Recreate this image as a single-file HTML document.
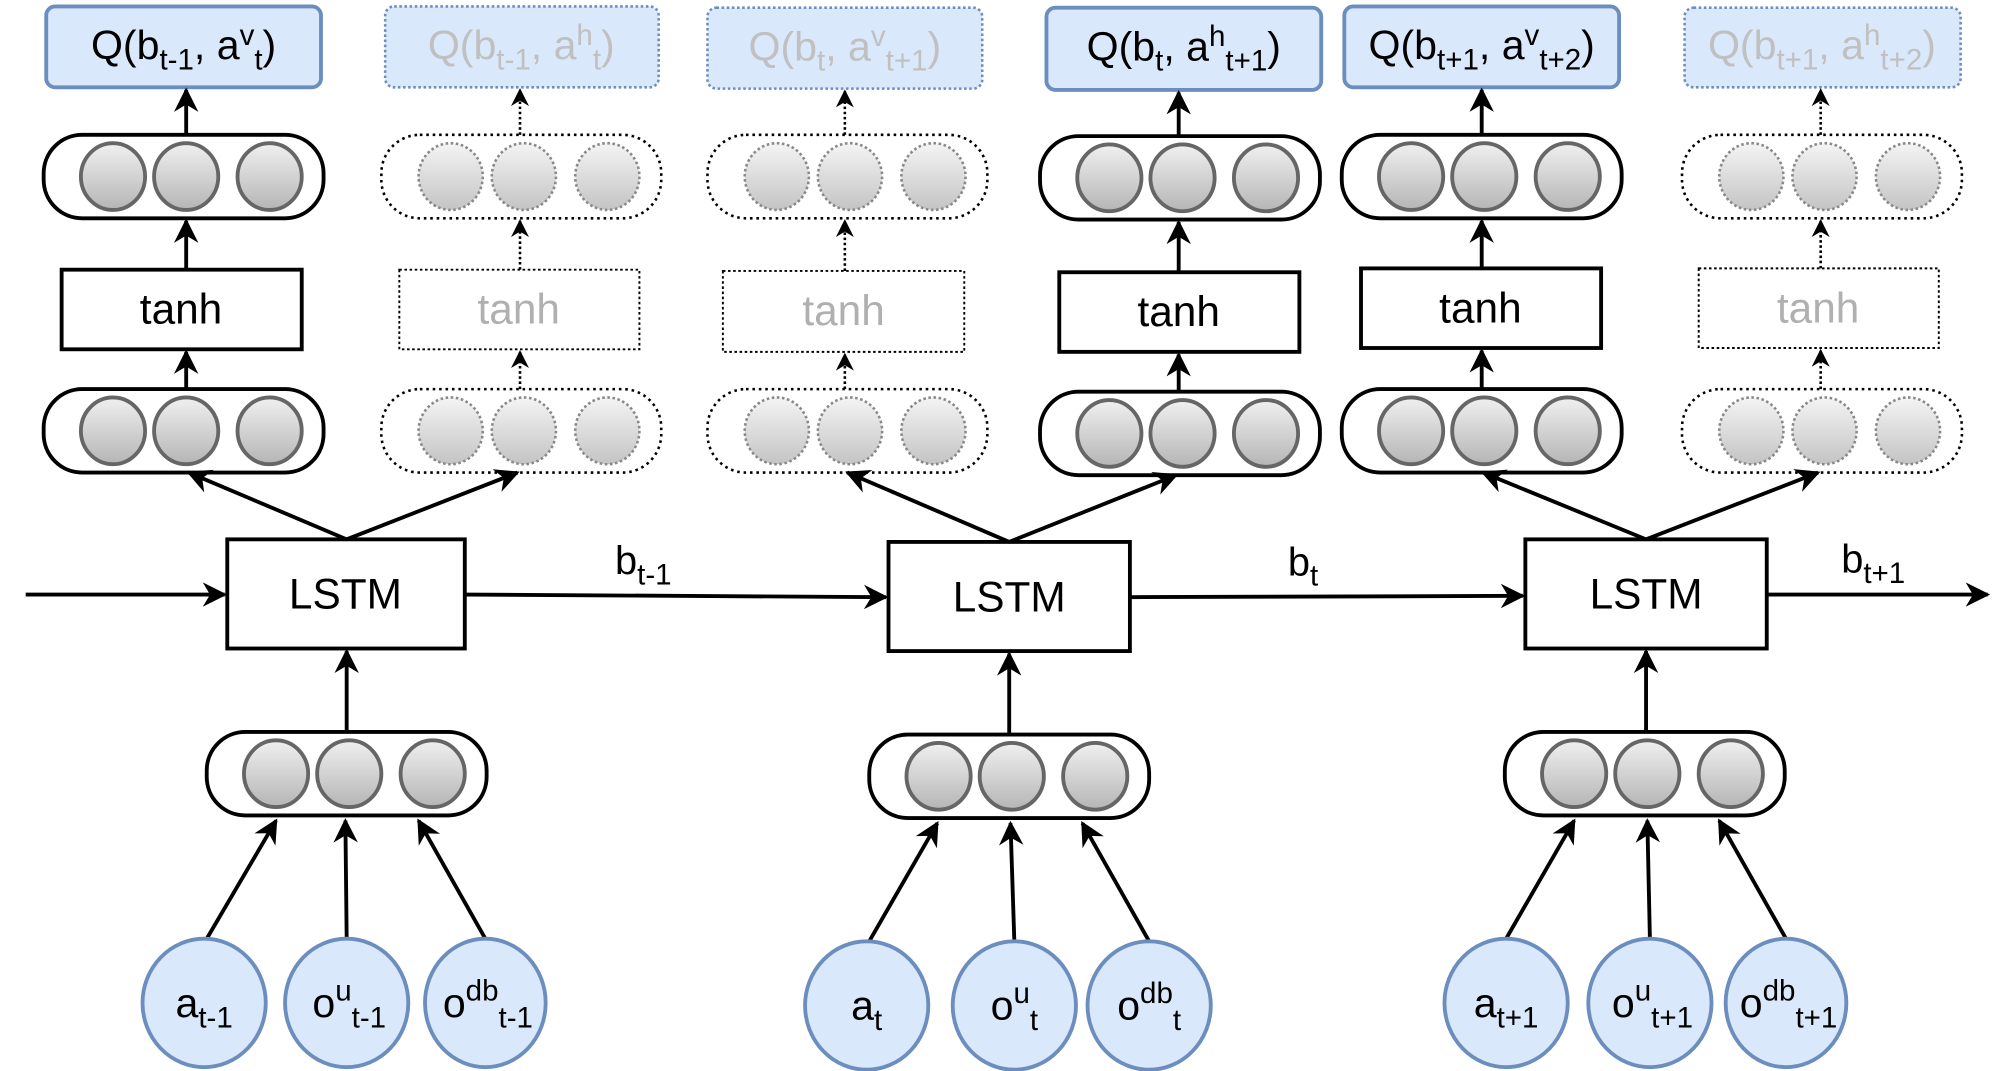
<!DOCTYPE html>
<html><head><meta charset="utf-8"><style>html,body{margin:0;padding:0;background:#fff}svg{display:block}</style></head>
<body>
<svg width="2003" height="1071" viewBox="0 0 1560 834" preserveAspectRatio="none" xmlns="http://www.w3.org/2000/svg" font-family="Liberation Sans, Arial, sans-serif">
<defs>
<linearGradient id="g" x1="0" y1="0" x2="0" y2="1"><stop offset="0" stop-color="#f0f0f0"/><stop offset="1" stop-color="#b5b5b5"/></linearGradient>
<linearGradient id="g2" x1="0" y1="0" x2="0" y2="1"><stop offset="0" stop-color="#f4f4f4"/><stop offset="1" stop-color="#c4c4c4"/></linearGradient>
<marker id="a" viewBox="0 0 10 10" refX="9" refY="5" markerUnits="userSpaceOnUse" markerWidth="19" markerHeight="21" orient="auto"><path d="M0,0 L10,5 L0,10 L3,5 z" fill="#000"/></marker>
<marker id="ad" viewBox="0 0 10 10" refX="9" refY="5" markerUnits="userSpaceOnUse" markerWidth="14" markerHeight="15" orient="auto"><path d="M0,0 L10,5 L0,10 L3,5 z" fill="#000"/></marker>
<g id="ls"><rect x="0" y="0" width="218" height="65" rx="30" fill="#fff" stroke="#000" stroke-width="3"/>
<ellipse cx="54" cy="32.5" rx="25" ry="26" fill="url(#g)" stroke="#666" stroke-width="3"/>
<ellipse cx="111" cy="32.5" rx="25" ry="26" fill="url(#g)" stroke="#666" stroke-width="3"/>
<ellipse cx="176" cy="32.5" rx="25" ry="26" fill="url(#g)" stroke="#666" stroke-width="3"/></g>
<g id="ld"><rect x="0" y="0" width="218" height="65" rx="30" fill="#fff" stroke="#000" stroke-width="2" stroke-dasharray="2 3"/>
<ellipse cx="54" cy="32.5" rx="25" ry="26" fill="url(#g2)" stroke="#888" stroke-width="2" stroke-dasharray="2 2"/>
<ellipse cx="111" cy="32.5" rx="25" ry="26" fill="url(#g2)" stroke="#888" stroke-width="2" stroke-dasharray="2 2"/>
<ellipse cx="176" cy="32.5" rx="25" ry="26" fill="url(#g2)" stroke="#888" stroke-width="2" stroke-dasharray="2 2"/></g>
</defs>

<g font-size="32" text-anchor="middle">
<rect x="36" y="5" width="214" height="63" rx="7" fill="#dae8fc" stroke="#6c8ebf" stroke-width="3"/>
<text x="143" y="46">Q(b<tspan font-size="23" dy="8">t-1</tspan><tspan dy="-8">, a</tspan><tspan font-size="23" dy="-11">v</tspan><tspan font-size="23" dy="19">t</tspan><tspan dy="-8">)</tspan></text>
<rect x="300" y="5" width="213" height="63" rx="7" fill="#dae8fc" stroke="#6c8ebf" stroke-width="2" stroke-dasharray="2 2"/>
<text x="406" y="46" fill="#c0c0c0">Q(b<tspan font-size="23" dy="8">t-1</tspan><tspan dy="-8">, a</tspan><tspan font-size="23" dy="-11">h</tspan><tspan font-size="23" dy="19">t</tspan><tspan dy="-8">)</tspan></text>
<rect x="551" y="6" width="214" height="63" rx="7" fill="#dae8fc" stroke="#6c8ebf" stroke-width="2" stroke-dasharray="2 2"/>
<text x="658" y="47" fill="#c0c0c0">Q(b<tspan font-size="23" dy="8">t</tspan><tspan dy="-8">, a</tspan><tspan font-size="23" dy="-11">v</tspan><tspan font-size="23" dy="19">t+1</tspan><tspan dy="-8">)</tspan></text>
<rect x="815" y="6" width="214" height="64" rx="7" fill="#dae8fc" stroke="#6c8ebf" stroke-width="3"/>
<text x="922" y="47">Q(b<tspan font-size="23" dy="8">t</tspan><tspan dy="-8">, a</tspan><tspan font-size="23" dy="-11">h</tspan><tspan font-size="23" dy="19">t+1</tspan><tspan dy="-8">)</tspan></text>
<rect x="1047" y="5" width="214" height="63" rx="7" fill="#dae8fc" stroke="#6c8ebf" stroke-width="3"/>
<text x="1154" y="46">Q(b<tspan font-size="23" dy="8">t+1</tspan><tspan dy="-8">, a</tspan><tspan font-size="23" dy="-11">v</tspan><tspan font-size="23" dy="19">t+2</tspan><tspan dy="-8">)</tspan></text>
<rect x="1312" y="6" width="215" height="62" rx="7" fill="#dae8fc" stroke="#6c8ebf" stroke-width="2" stroke-dasharray="2 2"/>
<text x="1419" y="46" fill="#c0c0c0">Q(b<tspan font-size="23" dy="8">t+1</tspan><tspan dy="-8">, a</tspan><tspan font-size="23" dy="-11">h</tspan><tspan font-size="23" dy="19">t+2</tspan><tspan dy="-8">)</tspan></text>
</g>

<use href="#ls" x="34" y="105"/><use href="#ls" x="34" y="303"/>
<use href="#ld" x="297" y="105"/><use href="#ld" x="297" y="303"/>
<use href="#ld" x="551" y="105"/><use href="#ld" x="551" y="303"/>
<use href="#ls" x="810" y="106"/><use href="#ls" x="810" y="305"/>
<use href="#ls" x="1045" y="105"/><use href="#ls" x="1045" y="303"/>
<use href="#ld" x="1310" y="105"/><use href="#ld" x="1310" y="303"/>

<g font-size="33" text-anchor="middle">
<rect x="48" y="210" width="187" height="62" fill="#fff" stroke="#000" stroke-width="3"/><text x="141" y="252">tanh</text>
<rect x="311" y="210" width="187" height="62" fill="#fff" stroke="#000" stroke-width="1.5" stroke-dasharray="2 2"/><text x="404" y="252" fill="#b0b0b0">tanh</text>
<rect x="563" y="211" width="188" height="63" fill="#fff" stroke="#000" stroke-width="1.5" stroke-dasharray="2 2"/><text x="657" y="253" fill="#b0b0b0">tanh</text>
<rect x="825" y="212" width="187" height="62" fill="#fff" stroke="#000" stroke-width="3"/><text x="918" y="254">tanh</text>
<rect x="1060" y="209" width="187" height="62" fill="#fff" stroke="#000" stroke-width="3"/><text x="1153" y="251">tanh</text>
<rect x="1323" y="209" width="187" height="62" fill="#fff" stroke="#000" stroke-width="1.5" stroke-dasharray="2 2"/><text x="1416" y="251" fill="#b0b0b0">tanh</text>
</g>

<g stroke="#000" stroke-width="3" fill="none" marker-end="url(#a)">
<line x1="145" y1="105" x2="145" y2="70"/><line x1="145" y1="210" x2="145" y2="172"/><line x1="145" y1="303" x2="145" y2="274"/>
<line x1="918" y1="106" x2="918" y2="72"/><line x1="918" y1="212" x2="918" y2="173"/><line x1="918" y1="305" x2="918" y2="276"/>
<line x1="1154" y1="105" x2="1154" y2="70"/><line x1="1154" y1="209" x2="1154" y2="172"/><line x1="1154" y1="303" x2="1154" y2="273"/>
</g>
<g stroke="#000" stroke-width="2" fill="none" stroke-dasharray="2 2" marker-end="url(#ad)">
<line x1="405" y1="105" x2="405" y2="70"/><line x1="405" y1="210" x2="405" y2="172"/><line x1="405" y1="303" x2="405" y2="274"/>
<line x1="658" y1="105" x2="658" y2="71"/><line x1="658" y1="211" x2="658" y2="172"/><line x1="658" y1="303" x2="658" y2="276"/>
<line x1="1418" y1="105" x2="1418" y2="70"/><line x1="1418" y1="209" x2="1418" y2="172"/><line x1="1418" y1="303" x2="1418" y2="273"/>
</g>

<g font-size="33" text-anchor="middle">
<rect x="177" y="420" width="185" height="85" fill="#fff" stroke="#000" stroke-width="3"/><text x="269" y="474">LSTM</text>
<rect x="692" y="422" width="188" height="85" fill="#fff" stroke="#000" stroke-width="3"/><text x="786" y="476">LSTM</text>
<rect x="1188" y="420" width="188" height="85" fill="#fff" stroke="#000" stroke-width="3"/><text x="1282" y="474">LSTM</text>
</g>

<g stroke="#000" stroke-width="3" fill="none" marker-end="url(#a)">
<line x1="270" y1="420" x2="147" y2="368"/><line x1="270" y1="420" x2="403" y2="368"/>
<line x1="786" y1="422" x2="660" y2="368"/><line x1="786" y1="422" x2="916" y2="370"/>
<line x1="1282" y1="420" x2="1155" y2="368"/><line x1="1282" y1="420" x2="1416" y2="368"/>
<line x1="20" y1="463" x2="175" y2="463"/>
<line x1="362" y1="463" x2="690" y2="465"/>
<line x1="880" y1="465" x2="1186" y2="464"/>
<line x1="1376" y1="463" x2="1548" y2="463"/>
<line x1="270" y1="570" x2="270" y2="507"/>
<line x1="786" y1="572" x2="786" y2="509"/>
<line x1="1282" y1="570" x2="1282" y2="507"/>
</g>
<g font-size="31">
<text x="479" y="447">b<tspan font-size="23" dy="8">t-1</tspan></text>
<text x="1003" y="448">b<tspan font-size="23" dy="8">t</tspan></text>
<text x="1434" y="446">b<tspan font-size="23" dy="8">t+1</tspan></text>
</g>

<use href="#ls" x="161" y="570"/>
<use href="#ls" x="677" y="572"/>
<use href="#ls" x="1172" y="570"/>

<g stroke="#000" stroke-width="3" fill="none" marker-end="url(#a)">
<line x1="161" y1="731" x2="215" y2="639"/><line x1="270" y1="731" x2="269" y2="639"/><line x1="378" y1="731" x2="326" y2="639"/>
<line x1="677" y1="733" x2="730" y2="641"/><line x1="790" y1="733" x2="787" y2="641"/><line x1="895" y1="733" x2="843" y2="641"/>
<line x1="1173" y1="731" x2="1226" y2="639"/><line x1="1285" y1="731" x2="1283" y2="639"/><line x1="1391" y1="731" x2="1339" y2="639"/>
</g>

<g fill="#dae8fc" stroke="#6c8ebf" stroke-width="3">
<ellipse cx="159" cy="781" rx="48" ry="50"/><ellipse cx="270" cy="781" rx="48" ry="50"/><ellipse cx="378" cy="781" rx="47" ry="50"/>
<ellipse cx="675" cy="783" rx="48" ry="50"/><ellipse cx="790" cy="783" rx="48" ry="50"/><ellipse cx="895" cy="783" rx="48" ry="50"/>
<ellipse cx="1173" cy="781" rx="48" ry="50"/><ellipse cx="1285" cy="781" rx="48" ry="50"/><ellipse cx="1391" cy="781" rx="47" ry="50"/>
</g>
<g font-size="32" text-anchor="middle">
<text x="159" y="792">a<tspan font-size="23" dy="8">t-1</tspan></text>
<text x="272" y="792">o<tspan font-size="23" dy="-13">u</tspan><tspan font-size="23" dy="21">t-1</tspan></text>
<text x="380" y="792">o<tspan font-size="23" dy="-13">db</tspan><tspan font-size="23" dy="21">t-1</tspan></text>
<text x="675" y="794">a<tspan font-size="23" dy="8">t</tspan></text>
<text x="790" y="794">o<tspan font-size="23" dy="-13">u</tspan><tspan font-size="23" dy="21">t</tspan></text>
<text x="895" y="794">o<tspan font-size="23" dy="-13">db</tspan><tspan font-size="23" dy="21">t</tspan></text>
<text x="1173" y="792">a<tspan font-size="23" dy="8">t+1</tspan></text>
<text x="1287" y="792">o<tspan font-size="23" dy="-13">u</tspan><tspan font-size="23" dy="21">t+1</tspan></text>
<text x="1393" y="792">o<tspan font-size="23" dy="-13">db</tspan><tspan font-size="23" dy="21">t+1</tspan></text>
</g>
</svg>
</body></html>
